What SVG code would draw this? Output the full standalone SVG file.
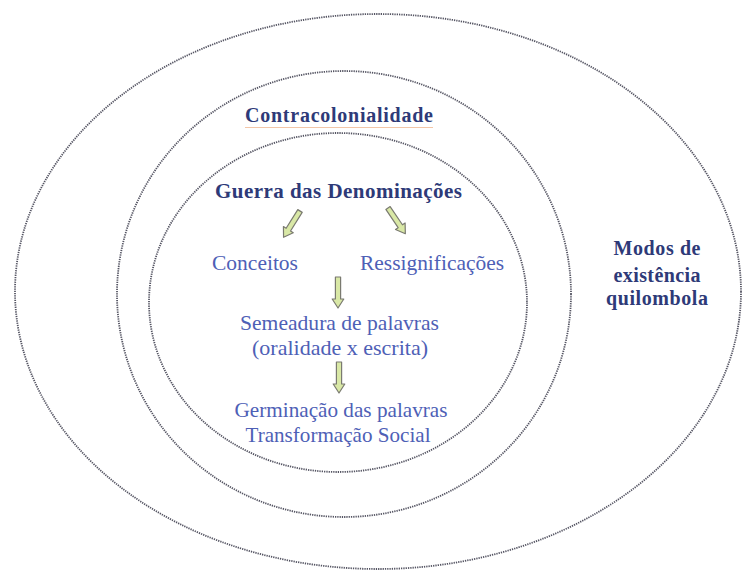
<svg xmlns="http://www.w3.org/2000/svg" width="744" height="573" viewBox="0 0 744 573">
<style>
.ring{fill:none;stroke:#555563;stroke-width:1.8;stroke-dasharray:1.3 1}
.b{font-family:"Liberation Serif","DejaVu Serif",serif;font-weight:bold;fill:#2e3a78;text-anchor:middle}
.r{font-family:"Liberation Serif","DejaVu Serif",serif;font-weight:normal;font-style:normal;fill:#4e60b6;text-anchor:middle;font-size:22px}
.arr{fill:#d9e8a6;stroke:#7a7a70;stroke-width:1.2;stroke-linejoin:round}
</style>
<defs>
<path id="blk" d="M-2.6,0 H2.6 V22 H5.8 L0,31 L-5.8,22 H-2.6 Z"/>
</defs>
<rect width="744" height="573" fill="#ffffff"/>
<g id="outer">
<ellipse class="ring" cx="378" cy="291.5" rx="363" ry="277.5"/>
<text class="b" font-size="20" x="657" y="255" textLength="87" lengthAdjust="spacing">Modos de</text>
<text class="b" font-size="20" x="657" y="282" textLength="87" lengthAdjust="spacing">existência</text>
<text class="b" font-size="20" x="657" y="305" textLength="102" lengthAdjust="spacing">quilombola</text>
</g>
<g id="middle">
<ellipse class="ring" cx="344" cy="294" rx="227" ry="223"/>
<text class="b" font-size="20" x="339" y="122" textLength="188" lengthAdjust="spacing">Contracolonialidade</text>
<line x1="245" y1="127.5" x2="433" y2="127.5" stroke="#f0b890" stroke-width="0.8"/>
</g>
<g id="inner">
<ellipse class="ring" cx="338" cy="302.5" rx="189" ry="169.5"/>
</g>
<g id="guerra"><text class="b" font-size="21" x="338.5" y="198" textLength="247" lengthAdjust="spacing">Guerra das Denominações</text></g>
<g id="conceitos"><text class="r" x="255" y="270" textLength="86" lengthAdjust="spacingAndGlyphs">Conceitos</text></g>
<g id="ressignificacoes"><text class="r" x="432" y="270" textLength="144" lengthAdjust="spacingAndGlyphs">Ressignificações</text></g>
<g id="semeadura"><text class="r" x="339.5" y="330" textLength="199" lengthAdjust="spacingAndGlyphs">Semeadura de palavras</text><text class="r" x="340" y="355" textLength="176" lengthAdjust="spacingAndGlyphs">(oralidade x escrita)</text></g>
<g id="germinacao"><text class="r" x="341" y="417" textLength="213" lengthAdjust="spacingAndGlyphs">Germinação das palavras</text><text class="r" x="338" y="442" textLength="185" lengthAdjust="spacingAndGlyphs">Transformação Social</text></g>
<g id="connectors">
<use href="#blk" class="arr" transform="translate(300,211) rotate(32)"/>
<use href="#blk" class="arr" transform="translate(388,208) rotate(-34)"/>
<use href="#blk" class="arr" transform="translate(338,277)"/>
<use href="#blk" class="arr" transform="translate(339,362)"/>
</g>
</svg>
